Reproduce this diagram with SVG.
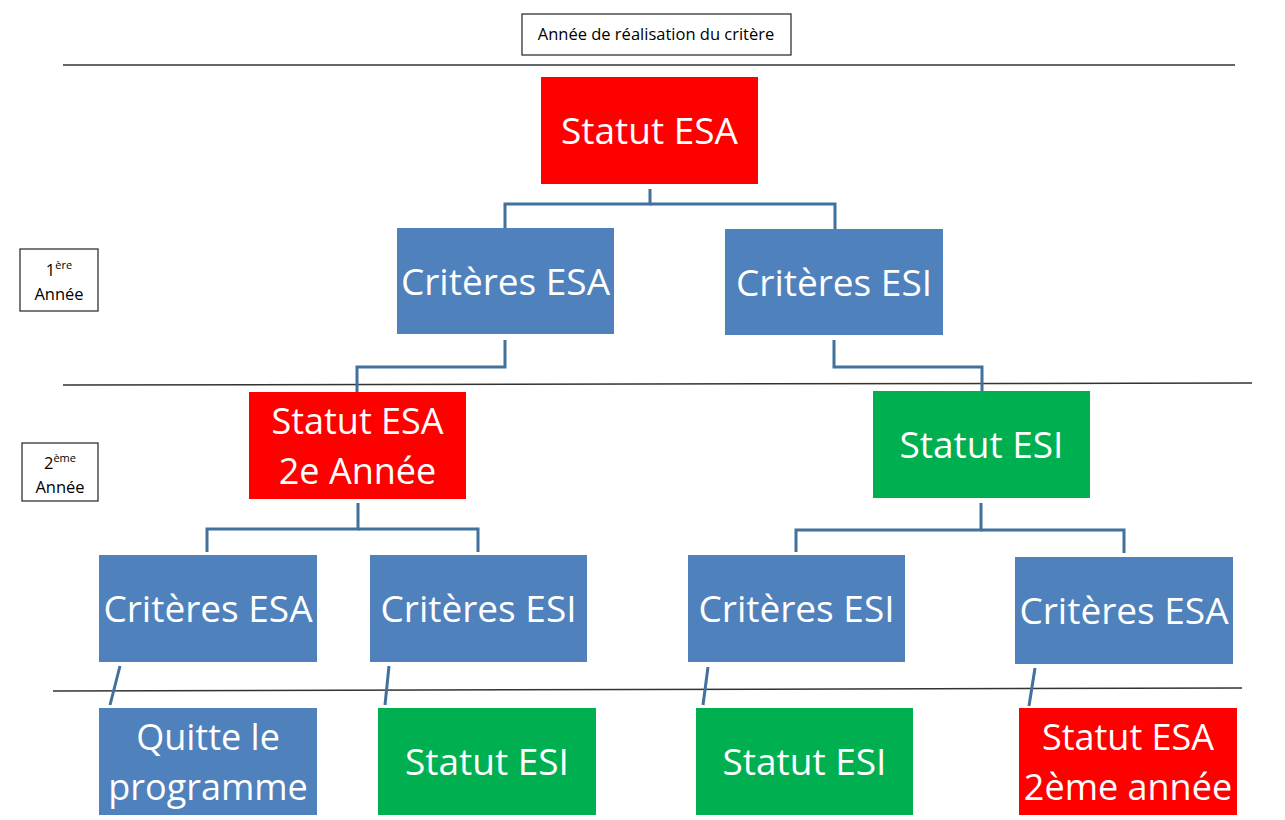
<svg xmlns="http://www.w3.org/2000/svg" width="1285" height="820" viewBox="0 0 1285 820">
<style>
.bg{fill:#ffffff}
.red{fill:#ff0000}
.blue{fill:#4f81bd}
.green{fill:#00b050}
.t{font-family:"Open Sans","Liberation Sans",sans-serif;font-size:37px;fill:#ffffff;text-anchor:middle}
.t2{font-size:36px}
.lbl{fill:#ffffff;stroke:#333333;stroke-width:1.3}
.lt{font-family:"Open Sans","Liberation Sans",sans-serif;font-size:16.5px;fill:#000000;text-anchor:middle}
.sup{font-size:11px}
.sep{stroke:#333333;stroke-width:1.5;fill:none}
.conn{stroke:#41719c;stroke-width:3;fill:none}
</style>
<rect class="bg" x="0" y="0" width="1285" height="820"/>
<g id="labels">
<g id="label-annee"><rect class="lbl" x="522" y="14" width="269" height="41"/><text class="lt" x="656" y="40">Année de réalisation du critère</text></g>
<g id="label-1ere"><rect class="lbl" x="20" y="249" width="78" height="62"/><text class="lt" x="59" y="276">1<tspan class="sup" dy="-7">ère</tspan></text><text class="lt" x="59" y="300">Année</text></g>
<g id="label-2eme"><rect class="lbl" x="22" y="443" width="76" height="58"/><text class="lt" x="60" y="469">2<tspan class="sup" dy="-7">ème</tspan></text><text class="lt" x="60" y="493">Année</text></g>
</g>
<g id="separators">
<line class="sep" x1="63" y1="65" x2="1235" y2="65"/>
<line class="sep" x1="63" y1="385" x2="1252" y2="383"/>
<line class="sep" x1="53" y1="691" x2="1242" y2="688"/>
</g>
<g id="connectors">
<polyline class="conn" points="650,189 650,204 505,204 505,228"/>
<polyline class="conn" points="650,204 835,204 835,229"/>
<polyline class="conn" points="505,340 505,367 357,367 357,392"/>
<polyline class="conn" points="834,340 834,367 982,367 982,391"/>
<polyline class="conn" points="358,503 358,529 207,529 207,552"/>
<polyline class="conn" points="358,529 478,529 478,552"/>
<polyline class="conn" points="981,503 981,530 796,530 796,552"/>
<polyline class="conn" points="981,530 1124,530 1124,553"/>
<line class="conn" x1="120" y1="666" x2="110" y2="705"/>
<line class="conn" x1="389" y1="666" x2="385" y2="705"/>
<line class="conn" x1="708" y1="667" x2="703" y2="705"/>
<line class="conn" x1="1035" y1="668" x2="1029" y2="706"/>
</g>
<g id="n-statut-esa"><rect class="red" x="541" y="77" width="217" height="107"/><text class="t" x="649.5" y="144">Statut ESA</text></g>
<g id="n-criteres-esa-1"><rect class="blue" x="397" y="228" width="217" height="106"/><text class="t" x="505.5" y="295">Critères ESA</text></g>
<g id="n-criteres-esi-1"><rect class="blue" x="725" y="229" width="218" height="106"/><text class="t" x="834" y="296">Critères ESI</text></g>
<g id="n-statut-esa-2"><rect class="red" x="249" y="392" width="217" height="107"/><text class="t t2" x="357.5" y="433.5">Statut ESA</text><text class="t t2" x="357.5" y="483.5">2e Année</text></g>
<g id="n-statut-esi-2"><rect class="green" x="873" y="391" width="217" height="107"/><text class="t" x="981.5" y="458">Statut ESI</text></g>
<g id="n-criteres-esa-2a"><rect class="blue" x="99" y="555" width="218" height="107"/><text class="t" x="208" y="622">Critères ESA</text></g>
<g id="n-criteres-esi-2a"><rect class="blue" x="370" y="555" width="217" height="107"/><text class="t" x="478.5" y="622">Critères ESI</text></g>
<g id="n-criteres-esi-2b"><rect class="blue" x="688" y="555" width="217" height="107"/><text class="t" x="796.5" y="622">Critères ESI</text></g>
<g id="n-criteres-esa-2b"><rect class="blue" x="1015" y="557" width="218" height="107"/><text class="t" x="1124" y="624">Critères ESA</text></g>
<g id="n-quitte"><rect class="blue" x="99" y="708" width="218" height="107"/><text class="t t2" x="208" y="749.5">Quitte le</text><text class="t t2" x="208" y="799.5">programme</text></g>
<g id="n-statut-esi-3a"><rect class="green" x="378" y="708" width="218" height="107"/><text class="t" x="487" y="775">Statut ESI</text></g>
<g id="n-statut-esi-3b"><rect class="green" x="696" y="708" width="217" height="107"/><text class="t" x="804.5" y="775">Statut ESI</text></g>
<g id="n-statut-esa-3"><rect class="red" x="1019" y="708" width="218" height="107"/><text class="t t2" x="1128" y="749.5">Statut ESA</text><text class="t t2" x="1128" y="799.5">2ème année</text></g>
</svg>
